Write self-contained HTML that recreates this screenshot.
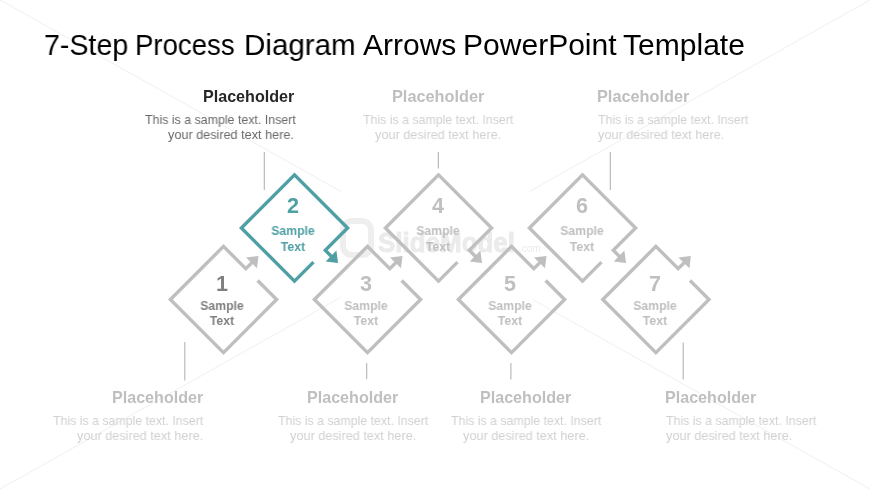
<!DOCTYPE html>
<html><head><meta charset="utf-8">
<style>
html,body{margin:0;padding:0;background:#fff;}
body{width:870px;height:489px;position:relative;overflow:hidden;font-family:"Liberation Sans",sans-serif;}
.t{position:absolute;white-space:nowrap;line-height:1;will-change:transform;}
.tw{font-size:29.8px;color:#000;transform-origin:0 0;}
.h{font-weight:bold;font-size:16.1px;}
.b{font-size:12.8px;}
.n{font-weight:bold;font-size:21.6px;}
.s{font-weight:bold;font-size:12.5px;}
svg{position:absolute;left:0;top:0;will-change:transform;}
</style></head><body>
<svg width="870" height="489" viewBox="0 0 870 489">
  <g stroke="#efefef" stroke-width="1" fill="none">
    <line x1="0" y1="0" x2="341" y2="191.5"/>
    <line x1="870" y1="0" x2="529.5" y2="191.5"/>
    <line x1="0" y1="489" x2="340.5" y2="297.5"/>
    <line x1="870" y1="489" x2="532.5" y2="299.5"/>
  </g>
  <g fill="#ebebeb" stroke="#ebebeb" stroke-width="0.9" stroke-linejoin="round">
    <text x="378" y="252" font-family="Liberation Sans" font-weight="bold" font-size="27" textLength="137" lengthAdjust="spacingAndGlyphs">SlideModel</text>
  </g>
  <text x="519" y="252" font-family="Liberation Sans" font-size="10" fill="#ebebeb">.com</text>
  <rect x="343" y="221" width="28" height="34" rx="9" fill="none" stroke="#eeeeee" stroke-width="6"/>
  <g stroke="#b4b4b4" stroke-width="1.1" fill="none">
    <line x1="264.3" y1="152" x2="264.3" y2="190"/>
    <line x1="438.3" y1="152" x2="438.3" y2="168.5"/>
    <line x1="610.3" y1="152" x2="610.3" y2="190"/>
    <line x1="184.8" y1="342" x2="184.8" y2="380.5"/>
    <line x1="366.7" y1="363" x2="366.7" y2="379"/>
    <line x1="510.9" y1="363" x2="510.9" y2="379.5"/>
    <line x1="683.2" y1="342.5" x2="683.2" y2="379.5"/>
  </g>
  <defs>
    <g id="lo">
      <path d="M34.1,-19 L53.1,0 L0,53.1 L-53.1,0 L0,-53.1 L22.3,-30.8 L29,-37.5" fill="none" stroke-width="3.4" stroke-linejoin="miter"/>
      <path d="M35,-43.5 L33.5,-31.2 L22.5,-41.9 Z" stroke="none"/>
    </g>
    <g id="up">
      <use href="#lo" transform="rotate(90)"/>
    </g>
  </defs>
  <g stroke="#bfbfbf" fill="#bfbfbf">
    <use href="#lo" x="223.5" y="299.5"/>
    <use href="#lo" x="367.5" y="299.5"/>
    <use href="#lo" x="511.5" y="299.5"/>
    <use href="#lo" x="655.9" y="299.5"/>
    <use href="#up" x="438.5" y="228"/>
    <use href="#up" x="582.5" y="228"/>
  </g>
  <g stroke="#4fa0a5" fill="#4fa0a5">
    <use href="#up" x="294.5" y="228"/>
  </g>
</svg>

<div class="t tw" id="tw_7-Step" style="left:43.95px;top:30.47px;transform:scaleX(0.9591)">7-Step</div>
<div class="t tw" id="tw_Process" style="left:135.27px;top:30.47px;transform:scaleX(0.9262)">Process</div>
<div class="t tw" id="tw_Diagram" style="left:244.13px;top:30.47px;transform:scaleX(0.9917)">Diagram</div>
<div class="t tw" id="tw_Arrows" style="left:362.90px;top:30.47px;transform:scaleX(1.0066)">Arrows</div>
<div class="t tw" id="tw_PowerPoint" style="left:463.08px;top:30.47px;transform:scaleX(1.0080)">PowerPoint</div>
<div class="t tw" id="tw_Template" style="left:623.09px;top:30.47px;transform:scaleX(1.0084)">Template</div>
<div class="t h" id="T2_h" style="left:202.91px;top:87.97px;color:#262626;transform-origin:0 0;transform:scaleX(1.0003)">Placeholder</div>
<div class="t b" id="T2_b1" style="left:144.51px;top:114.16px;color:#696969;transform-origin:0 0;transform:scaleX(0.9679)">This is a sample text. Insert</div>
<div class="t b" id="T2_b2" style="left:168.10px;top:129.36px;color:#696969;transform-origin:0 0;transform:scaleX(0.9882)">your desired text here.</div>
<div class="t h" id="T4_h" style="left:392.48px;top:87.97px;color:#bfbfbf;transform-origin:0 0;transform:scaleX(1.0116)">Placeholder</div>
<div class="t b" id="T4_b1" style="left:363.10px;top:114.16px;color:#d1d1d1;transform-origin:0 0;transform:scaleX(0.9645)">This is a sample text. Insert</div>
<div class="t b" id="T4_b2" style="left:375.49px;top:129.36px;color:#d1d1d1;transform-origin:0 0;transform:scaleX(0.9907)">your desired text here.</div>
<div class="t h" id="T6_h" style="left:596.86px;top:87.97px;color:#bfbfbf;transform-origin:0 0;transform:scaleX(1.0116)">Placeholder</div>
<div class="t b" id="T6_b1" style="left:597.93px;top:114.16px;color:#d1d1d1;transform-origin:0 0;transform:scaleX(0.9643)">This is a sample text. Insert</div>
<div class="t b" id="T6_b2" style="left:597.91px;top:129.36px;color:#d1d1d1;transform-origin:0 0;transform:scaleX(0.9907)">your desired text here.</div>
<div class="t h" id="B1_h" style="left:111.70px;top:389.37px;color:#bfbfbf;transform-origin:0 0;transform:scaleX(1.0003)">Placeholder</div>
<div class="t b" id="B1_b1" style="left:53.32px;top:414.76px;color:#d1d1d1;transform-origin:0 0;transform:scaleX(0.9643)">This is a sample text. Insert</div>
<div class="t b" id="B1_b2" style="left:76.94px;top:430.16px;color:#d1d1d1;transform-origin:0 0;transform:scaleX(0.9907)">your desired text here.</div>
<div class="t h" id="B3_h" style="left:306.89px;top:389.37px;color:#bfbfbf;transform-origin:0 0;transform:scaleX(1.0003)">Placeholder</div>
<div class="t b" id="B3_b1" style="left:277.55px;top:414.76px;color:#d1d1d1;transform-origin:0 0;transform:scaleX(0.9643)">This is a sample text. Insert</div>
<div class="t b" id="B3_b2" style="left:289.88px;top:430.16px;color:#d1d1d1;transform-origin:0 0;transform:scaleX(0.9910)">your desired text here.</div>
<div class="t h" id="B5_h" style="left:480.09px;top:389.37px;color:#bfbfbf;transform-origin:0 0;transform:scaleX(1.0003)">Placeholder</div>
<div class="t b" id="B5_b1" style="left:450.68px;top:414.76px;color:#d1d1d1;transform-origin:0 0;transform:scaleX(0.9643)">This is a sample text. Insert</div>
<div class="t b" id="B5_b2" style="left:463.05px;top:430.16px;color:#d1d1d1;transform-origin:0 0;transform:scaleX(0.9907)">your desired text here.</div>
<div class="t h" id="B7_h" style="left:664.71px;top:389.37px;color:#bfbfbf;transform-origin:0 0;transform:scaleX(1.0003)">Placeholder</div>
<div class="t b" id="B7_b1" style="left:665.68px;top:414.76px;color:#d1d1d1;transform-origin:0 0;transform:scaleX(0.9643)">This is a sample text. Insert</div>
<div class="t b" id="B7_b2" style="left:665.67px;top:430.16px;color:#d1d1d1;transform-origin:0 0;transform:scaleX(0.9907)">your desired text here.</div>
<div class="t n" style="left:161.50px;width:120px;text-align:center;top:272.62px;color:#7f7f7f">1</div>
<div class="t s" style="left:161.50px;width:120px;text-align:center;top:299.92px;color:#7f7f7f;transform:scaleX(0.975)">Sample</div>
<div class="t s" style="left:161.50px;width:120px;text-align:center;top:314.82px;color:#7f7f7f;transform:scaleX(0.975)">Text</div>
<div class="t n" style="left:233.00px;width:120px;text-align:center;top:194.72px;color:#4fa0a5">2</div>
<div class="t s" style="left:233.00px;width:120px;text-align:center;top:224.92px;color:#4fa0a5;transform:scaleX(0.975)">Sample</div>
<div class="t s" style="left:233.00px;width:120px;text-align:center;top:240.62px;color:#4fa0a5;transform:scaleX(0.975)">Text</div>
<div class="t n" style="left:305.90px;width:120px;text-align:center;top:272.62px;color:#bfbfbf">3</div>
<div class="t s" style="left:305.90px;width:120px;text-align:center;top:299.92px;color:#bfbfbf;transform:scaleX(0.975)">Sample</div>
<div class="t s" style="left:305.90px;width:120px;text-align:center;top:314.82px;color:#bfbfbf;transform:scaleX(0.975)">Text</div>
<div class="t n" style="left:378.30px;width:120px;text-align:center;top:194.72px;color:#bfbfbf">4</div>
<div class="t s" style="left:378.30px;width:120px;text-align:center;top:224.92px;color:#bfbfbf;transform:scaleX(0.975)">Sample</div>
<div class="t s" style="left:378.30px;width:120px;text-align:center;top:240.62px;color:#bfbfbf;transform:scaleX(0.975)">Text</div>
<div class="t n" style="left:450.30px;width:120px;text-align:center;top:272.62px;color:#bfbfbf">5</div>
<div class="t s" style="left:450.30px;width:120px;text-align:center;top:299.92px;color:#bfbfbf;transform:scaleX(0.975)">Sample</div>
<div class="t s" style="left:450.30px;width:120px;text-align:center;top:314.82px;color:#bfbfbf;transform:scaleX(0.975)">Text</div>
<div class="t n" style="left:522.00px;width:120px;text-align:center;top:194.72px;color:#bfbfbf">6</div>
<div class="t s" style="left:522.00px;width:120px;text-align:center;top:224.92px;color:#bfbfbf;transform:scaleX(0.975)">Sample</div>
<div class="t s" style="left:522.00px;width:120px;text-align:center;top:240.62px;color:#bfbfbf;transform:scaleX(0.975)">Text</div>
<div class="t n" style="left:595.00px;width:120px;text-align:center;top:272.62px;color:#bfbfbf">7</div>
<div class="t s" style="left:595.00px;width:120px;text-align:center;top:299.92px;color:#bfbfbf;transform:scaleX(0.975)">Sample</div>
<div class="t s" style="left:595.00px;width:120px;text-align:center;top:314.82px;color:#bfbfbf;transform:scaleX(0.975)">Text</div>
</body></html>
